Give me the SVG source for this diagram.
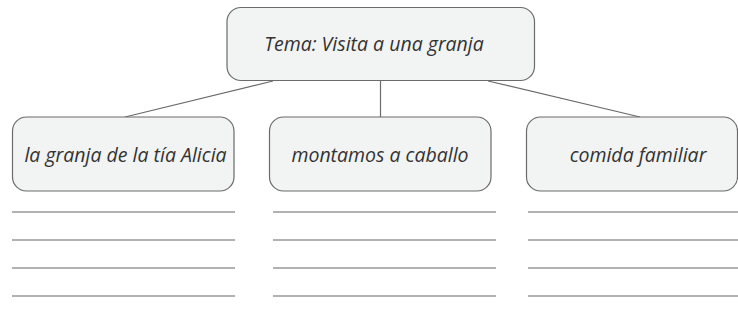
<svg xmlns="http://www.w3.org/2000/svg" width="738" height="329" viewBox="0 0 738 329">
<style>
.box{fill:#f2f3f3;stroke:#6b6b6b;stroke-width:1.2}
.t{font-family:"Open Sans","Noto Sans",sans-serif;font-style:italic;font-size:19.5px;fill:#333;text-anchor:middle}
.c{stroke:#6b6b6b;stroke-width:1.2;fill:none}
.w{stroke:#999;stroke-width:1.5}
</style>
<rect width="738" height="329" fill="#fff"/>
<g id="connectors">
<line class="c" x1="273" y1="81" x2="125" y2="117"/>
<line class="c" x1="380.5" y1="81" x2="380.5" y2="117"/>
<line class="c" x1="488" y1="81" x2="640" y2="117"/>
</g>
<g id="root">
<rect class="box" x="227" y="7.5" width="307.5" height="73" rx="14"/>
<text class="t" x="374" y="51">Tema: Visita a una granja</text>
</g>
<g id="n1">
<rect class="box" x="12.5" y="117" width="221.5" height="74" rx="14"/>
<text class="t" x="125.5" y="162">la granja de la tía Alicia</text>
</g>
<g id="n2">
<rect class="box" x="269.5" y="117" width="221.5" height="74" rx="14"/>
<text class="t" x="380" y="162">montamos a caballo</text>
</g>
<g id="n3">
<rect class="box" x="526.5" y="117" width="211" height="74" rx="14"/>
<text class="t" x="638" y="162">comida familiar</text>
</g>
<g id="lines">
<line class="w" x1="12" y1="212" x2="235" y2="212"/>
<line class="w" x1="12" y1="240" x2="235" y2="240"/>
<line class="w" x1="12" y1="268" x2="235" y2="268"/>
<line class="w" x1="12" y1="296" x2="235" y2="296"/>
<line class="w" x1="273" y1="212" x2="496" y2="212"/>
<line class="w" x1="273" y1="240" x2="496" y2="240"/>
<line class="w" x1="273" y1="268" x2="496" y2="268"/>
<line class="w" x1="273" y1="296" x2="496" y2="296"/>
<line class="w" x1="528" y1="212" x2="738" y2="212"/>
<line class="w" x1="528" y1="240" x2="738" y2="240"/>
<line class="w" x1="528" y1="268" x2="738" y2="268"/>
<line class="w" x1="528" y1="296" x2="738" y2="296"/>
</g>
</svg>
